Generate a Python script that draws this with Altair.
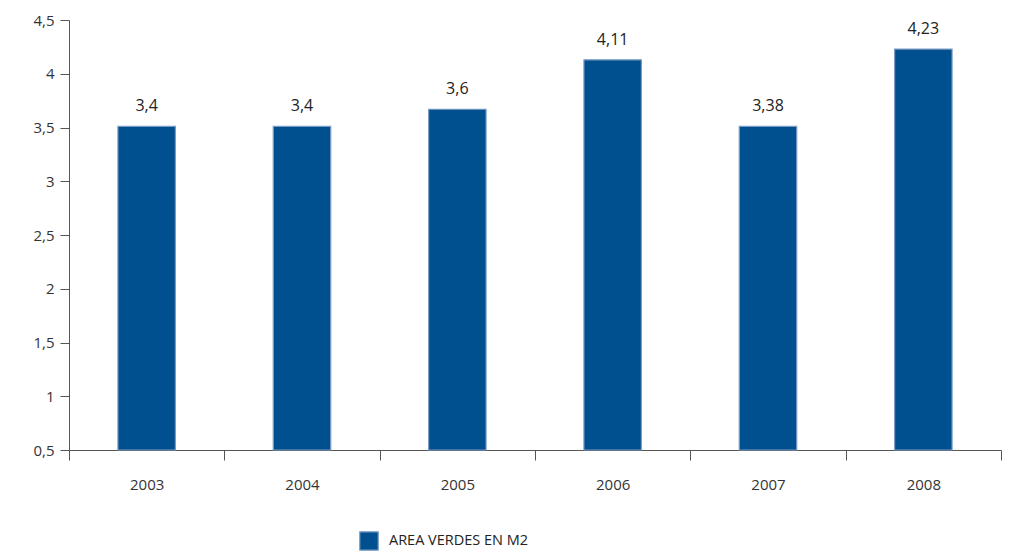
import altair as alt
import pandas as pd

years = ["2003", "2004", "2005", "2006", "2007", "2008"]
bar_heights = [3.51, 3.51, 3.67, 4.13, 3.51, 4.23]
value_labels = ["3,4", "3,4", "3,6", "4,11", "3,38", "4,23"]
series_name = "AREA VERDES EN M2"
y_ticks = [0.5, 1, 1.5, 2, 2.5, 3, 3.5, 4, 4.5]

df = pd.DataFrame({"year": years, "h": bar_heights, "lab": value_labels,
                   "serie": [series_name] * len(years)})

FONT = "Open Sans"

x = alt.X("year:N", sort=years, title=None,
          scale=alt.Scale(paddingInner=0, paddingOuter=0),
          axis=alt.Axis(labelAngle=0, tickBand="extent", tickSize=10,
                        labelPadding=17, labelFontSize=15, labelColor="#333333",
                        labelFont=FONT, domainColor="#555555", tickColor="#555555",
                        grid=False))
y = alt.Y("h:Q", title=None,
          scale=alt.Scale(domain=[0.5, 4.5], zero=False, nice=False, clamp=True),
          axis=alt.Axis(values=y_ticks, labelExpr="replace(toString(datum.value), '.', ',')",
                        tickSize=9, labelPadding=6, labelFontSize=15, labelColor="#333333",
                        labelFont=FONT, domainColor="#555555", tickColor="#555555",
                        grid=False))

bars = alt.Chart(df).mark_bar(stroke="#7a9cc4", strokeWidth=1.2,
                              width=alt.RelativeBandSize(0.37)).encode(
    x=x, y=y, y2=alt.datum(0.5),
    color=alt.Color("serie:N", scale=alt.Scale(range=["#004f8f"]),
                    legend=alt.Legend(title=None, orient="none", legendX=290, legendY=511,
                                      symbolType="square", symbolSize=340,
                                      symbolStrokeColor="#7a9cc4", symbolStrokeWidth=1.2,
                                      labelFontSize=14.5, labelFont=FONT, labelColor="#222222",
                                      labelOffset=10)),
)

labels = alt.Chart(df).mark_text(dy=-20, fontSize=16, font=FONT, color="#222222").encode(
    x=alt.X("year:N", sort=years), y="h:Q", text="lab:N")

chart = (bars + labels).properties(
    width=932, height=430,
    padding={"left": 69, "top": 20, "right": 9, "bottom": 103},
    autosize=alt.AutoSizeParams(type="none"),
).configure(background="white", view=alt.ViewConfig(stroke=None))

chart.save("out.html", embed_options={"renderer": "svg", "actions": False})
